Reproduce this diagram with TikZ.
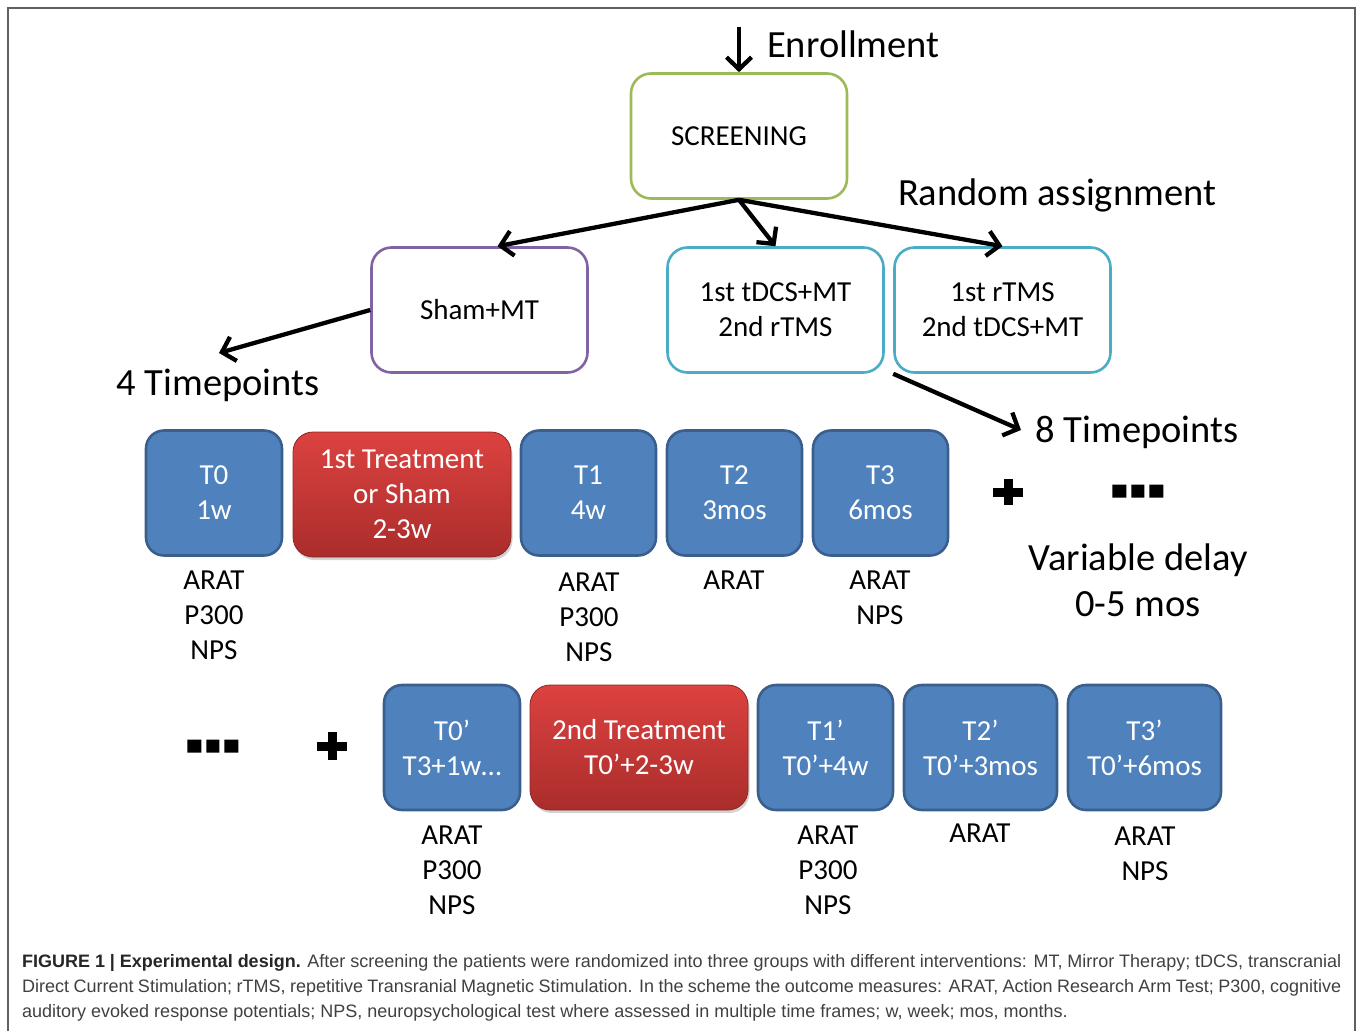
\documentclass[tikz,border=0pt]{standalone}
\usepackage{fontspec}
\setmainfont{Carlito}
\newfontfamily\capfont{Liberation Sans}
\usetikzlibrary{arrows.meta,shadows,calc}
\definecolor{grn}{HTML}{9BBB59}
\definecolor{pur}{HTML}{8064A2}
\definecolor{cyn}{HTML}{4BACC6}
\definecolor{blu}{HTML}{4F81BD}
\definecolor{bluD}{HTML}{3A5F8C}
\definecolor{redT}{HTML}{DC4240}
\definecolor{redB}{HTML}{AA2D2B}
\definecolor{redD}{HTML}{8C2826}
\definecolor{capgray}{HTML}{404040}
\newcommand\myfs[2]{\fontsize{#1}{#2}\selectfont}
\tikzset{
  outl/.style={draw, line width=2.6pt, rounded corners=20pt, fill=white,
    minimum width=216pt, minimum height=125pt, align=center, font=\myfs{29pt}{35pt}, inner sep=0pt},
  tbox/.style={draw=bluD, fill=blu, line width=2.6pt, rounded corners=18pt,
    minimum height=125pt, text=white, align=center, font=\myfs{29pt}{35pt}, inner sep=0pt},
  rbox/.style={draw=redD, line width=0.8pt, top color=redT, bottom color=redB, rounded corners=20pt,
    minimum width=218pt, minimum height=125pt, text=white, align=center, font=\myfs{29pt}{35pt}, inner sep=0pt,
    drop shadow={opacity=0.35, shadow xshift=1.5pt, shadow yshift=-3pt}},
  meas/.style={align=center, font=\myfs{29pt}{35pt}, inner sep=0pt},
  big/.style={align=center, font=\myfs{38.5pt}{46pt}, inner sep=0pt},
  arr/.style={line width=4.3pt, -{Straight Barb[length=12pt,width=25pt,line width=4.3pt]}},
  capline/.style={anchor=base west, inner sep=0pt, text=capgray, font=\capfont\myfs{18pt}{25pt}}
}
\begin{document}
\begin{tikzpicture}[x=1pt,y=-1pt]
\useasboundingbox (0,0) rectangle (1357,1031);
% frame
\draw[line width=1.5pt, gray!75!black] (8,1031) -- (8,8) -- (1355,8) -- (1355,1031);

% top
\node[outl, draw=grn] (scr) at (739,136) {SCREENING};
\coordinate (enr) at (739,27);
\draw[arr] (enr) -- (scr.north);
\node[big, anchor=west] (enrl) at (767,44) {Enrollment};
\node[big] (rand) at (1057,195) {Random assignment};

\node[outl, draw=pur] (sham) at (479.5,310) {Sham+MT};
\node[outl, draw=cyn] (tdcs) at (775.5,310) {1st tDCS+MT\\2nd rTMS};
\node[outl, draw=cyn] (rtms) at (1002.5,310) {1st rTMS\\2nd tDCS+MT};

\draw[arr] (scr.south) -- ([xshift=18pt]sham.north);
\draw[arr] (scr.south) -- (tdcs.north);
\draw[arr] (scr.south) -- (rtms.north);

\node[big] (tp4) at (218,385) {4 Timepoints};
\coordinate (tp4a) at (219,353);
\draw[arr] (sham.west) -- (tp4a);
\node[big] (tp8) at (1137,432) {8 Timepoints};
\coordinate (tp8a) at (1021,430);
\draw[arr] (rtms.south west) -- (tp8a);

% row 1
\node[tbox, minimum width=136pt] (t0) at (214,493) {T0\\1w};
\node[rbox] (tr1) at (402,494.5) {1st Treatment\\or Sham\\2-3w};
\node[tbox, minimum width=135pt] (t1) at (588.5,493) {T1\\4w};
\node[tbox, minimum width=135pt] (t2) at (734.5,493) {T2\\3mos};
\node[tbox, minimum width=135pt] (t3) at (880.5,493) {T3\\6mos};

\node[meas] (m0) at (214,615) {ARAT\\P300\\NPS};
\node[meas] (m1) at (589,617) {ARAT\\P300\\NPS};
\node[meas] (m2) at (734,580) {ARAT};
\node[meas] (m3) at (880,597.5) {ARAT\\NPS};

% plus and dots row 1
\node[inner sep=0pt, minimum size=30pt] (plus1) at (1008,492) {};
\fill ([xshift=-15pt,yshift=-4.5pt]plus1.center) rectangle ([xshift=15pt,yshift=4.5pt]plus1.center);
\fill ([xshift=-4.5pt,yshift=-13pt]plus1.center) rectangle ([xshift=4.5pt,yshift=13pt]plus1.center);
\node[inner sep=0pt, minimum width=51pt, minimum height=13pt] (dots1) at (1138,491) {};
\fill (dots1.south west) rectangle ++(14,-13) ++(5,0) rectangle ++(13,13) ++(5,0) rectangle ++(14,-13);
\node[big] (delay) at (1138,580) {Variable delay\\0-5 mos};

% row 2
\node[inner sep=0pt, minimum width=51pt, minimum height=13pt] (dots2) at (213,746) {};
\fill (dots2.south west) rectangle ++(14,-13) ++(5,0) rectangle ++(13,13) ++(5,0) rectangle ++(14,-13);
\node[inner sep=0pt, minimum size=30pt] (plus2) at (332,746) {};
\fill ([xshift=-15pt,yshift=-4.5pt]plus2.center) rectangle ([xshift=15pt,yshift=4.5pt]plus2.center);
\fill ([xshift=-4.5pt,yshift=-14pt]plus2.center) rectangle ([xshift=4.5pt,yshift=14pt]plus2.center);

\node[tbox, minimum width=136pt] (u0) at (452,747.5) {T0’\\T3+1w…};
\node[rbox] (tr2) at (639,747.5) {2nd Treatment\\T0’+2-3w};
\node[tbox, minimum width=135pt] (u1) at (825.5,747.5) {T1’\\T0’+4w};
\node[tbox, minimum width=153pt] (u2) at (980.5,747.5) {T2’\\T0’+3mos};
\node[tbox, minimum width=153pt] (u3) at (1144.5,747.5) {T3’\\T0’+6mos};

\node[meas] (n0) at (452,870) {ARAT\\P300\\NPS};
\node[meas] (n1) at (828,870) {ARAT\\P300\\NPS};
\node[meas] (n2) at (980,833) {ARAT};
\node[meas] (n3) at (1145,853.5) {ARAT\\NPS};

% caption
\node[capline] (c1) at (22,967) {\makebox[1319pt][s]{\textbf{\color{black!85}FIGURE 1 | Experimental design.} After screening the patients were randomized into three groups with different interventions: MT, Mirror Therapy; tDCS, transcranial}};
\node[capline] (c2) at (22,992) {\makebox[1319pt][s]{Direct Current Stimulation; rTMS, repetitive Transranial Magnetic Stimulation. In the scheme the outcome measures: ARAT, Action Research Arm Test; P300, cognitive}};
\node[capline] (c3) at (22,1017) {auditory evoked response potentials; NPS, neuropsychological test where assessed in multiple time frames; w, week; mos, months.};
\end{tikzpicture}
\end{document}
